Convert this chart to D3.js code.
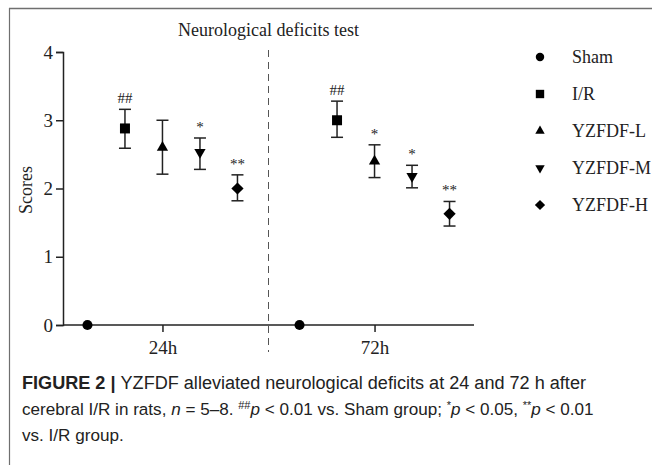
<!DOCTYPE html>
<html>
<head>
<meta charset="utf-8">
<script src="https://cdn.jsdelivr.net/npm/d3@7"></script>
<style>
  body { margin: 0; background: #fff; }
  svg { display: block; }
  .serif { font-family: "Liberation Serif", "Times New Roman", serif; }
  .cap { font-family: "Liberation Sans Narrow", "Liberation Sans", Arial, sans-serif; }
</style>
</head>
<body>
<div id="chart"></div>
<script>
// time points and groups
var times = ["24h", "72h"];
var groups = ["Sham", "I/R", "YZFDF-L", "YZFDF-M", "YZFDF-H"];
// mean, lower, upper error per group
var mean24 = [0, 2.88, 2.60, 2.53, 2.00];
var low24  = [0, 2.59, 2.21, 2.28, 1.82];
var high24 = [0, 3.16, 3.00, 2.74, 2.20];
var mean72 = [0, 3.00, 2.40, 2.18, 1.63];
var low72  = [0, 2.75, 2.16, 2.01, 1.45];
var high72 = [0, 3.28, 2.64, 2.34, 1.81];
var sig24 = ["", "##", "", "*", "**"];
var sig72 = ["", "##", "*", "*", "**"];
var yTicks = [0, 1, 2, 3, 4];

var W = 652, H = 465;
var svg = d3.select("#chart").append("svg").attr("width", W).attr("height", H);

// frame lines
svg.append("line").attr("x1", 9).attr("x2", W).attr("y1", 8.5).attr("y2", 8.5)
    .attr("stroke", "#6f6f6f").attr("stroke-width", 1.5);
svg.append("line").attr("x1", 9.5).attr("x2", 9.5).attr("y1", 8).attr("y2", H)
    .attr("stroke", "#6f6f6f").attr("stroke-width", 1.2);

var x = d3.scalePoint().domain(times).range([63, 474]).padding(0.469);
var xg = d3.scalePoint().domain(groups).range([-75, 75]);
var y = d3.scaleLinear().domain([0, 4]).range([325, 52]);

var data = [];
groups.forEach(function(g, i) {
    data.push({time: "24h", group: g, i: i, m: mean24[i], lo: low24[i], hi: high24[i], sig: sig24[i]});
    data.push({time: "72h", group: g, i: i, m: mean72[i], lo: low72[i], hi: high72[i], sig: sig72[i]});
});

// marker shapes: circle, square, triangle up, triangle down, diamond (rotated square)
var symbols = [d3.symbolCircle, d3.symbolSquare, d3.symbolTriangle, d3.symbolTriangle, d3.symbolSquare];
var sizes = [80, 100, 55, 55, 75];
var rot = [0, 0, 0, 180, 45];

// divider
var mid = (x("24h") + x("72h")) / 2;
svg.append("line").attr("x1", mid).attr("x2", mid).attr("y1", 50).attr("y2", 352)
    .attr("stroke", "#555").attr("stroke-width", 1).attr("stroke-dasharray", "7,5");

// axes
var yAxis = svg.append("g").attr("transform", "translate(63,0)")
    .call(d3.axisLeft(y).tickValues(yTicks).tickFormat(d3.format("d")).tickSize(7).tickPadding(3));
var xAxis = svg.append("g").attr("transform", "translate(0,325)")
    .call(d3.axisBottom(x).tickSize(7).tickPadding(6));
xAxis.select(".domain").attr("d", "M63,0H474");
[yAxis, xAxis].forEach(function(a) {
    a.selectAll("path,line").attr("stroke", "#222").attr("stroke-width", 1.5);
    a.selectAll("text").attr("class", "serif").attr("font-size", 19).attr("fill", "#222");
});
xAxis.selectAll("text").attr("dy", "0.85em");

svg.append("text").attr("class", "serif").attr("font-size", 18).attr("fill", "#222")
    .attr("text-anchor", "middle")
    .attr("transform", "translate(32,190) rotate(-90)")
    .text("Scores");

svg.append("text").attr("class", "serif").attr("font-size", 18).attr("fill", "#222")
    .attr("text-anchor", "middle").attr("x", mid).attr("y", 36)
    .text("Neurological deficits test");

// error bars
var pts = svg.append("g").selectAll("g").data(data).enter().append("g")
    .attr("transform", function(d) { return "translate(" + (x(d.time) + xg(d.group)) + ",0)"; });
var eb = pts.filter(function(d) { return d.hi > d.lo; });
eb.append("line").attr("y1", function(d) { return y(d.lo); }).attr("y2", function(d) { return y(d.hi); })
    .attr("stroke", "#222").attr("stroke-width", 1.5);
eb.append("line").attr("x1", -6).attr("x2", 6).attr("y1", function(d) { return y(d.lo); }).attr("y2", function(d) { return y(d.lo); })
    .attr("stroke", "#222").attr("stroke-width", 1.5);
eb.append("line").attr("x1", -6).attr("x2", 6).attr("y1", function(d) { return y(d.hi); }).attr("y2", function(d) { return y(d.hi); })
    .attr("stroke", "#222").attr("stroke-width", 1.5);
pts.append("path")
    .attr("d", function(d) { return d3.symbol().type(symbols[d.i]).size(sizes[d.i])(); })
    .attr("transform", function(d) { return "translate(0," + y(d.m) + ") rotate(" + rot[d.i] + ")"; })
    .attr("fill", "#000");
pts.append("text").attr("class", "serif").attr("font-size", 15).attr("fill", "#222")
    .attr("text-anchor", "middle")
    .attr("y", function(d) { return y(d.hi) - 6; })
    .text(function(d) { return d.sig; });

// legend
var leg = svg.append("g").selectAll("g").data(groups).enter().append("g")
    .attr("transform", function(d, i) { return "translate(540," + (57 + i * 37) + ")"; });
leg.append("path")
    .attr("d", function(d, i) { return d3.symbol().type(symbols[i]).size(sizes[i] * 0.7)(); })
    .attr("transform", function(d, i) { return "rotate(" + rot[i] + ")"; })
    .attr("fill", "#000");
leg.append("text").attr("class", "serif").attr("font-size", 18).attr("fill", "#222")
    .attr("x", 32).attr("dy", "0.35em").text(function(d) { return d; });

// caption
var cap = svg.append("g").attr("class", "cap").attr("font-size", 18).attr("fill", "#222");
var l1 = cap.append("text").attr("x", 22).attr("y", 389).attr("textLength", 564).attr("lengthAdjust", "spacingAndGlyphs");
l1.append("tspan").attr("font-weight", "bold").text("FIGURE 2 | ");
l1.append("tspan").text("YZFDF alleviated neurological deficits at 24 and 72 h after");
var l2 = cap.append("text").attr("x", 22).attr("y", 415).attr("font-size", 17.1);
l2.append("tspan").text("cerebral I/R in rats, ");
l2.append("tspan").attr("font-style", "italic").text("n");
l2.append("tspan").text(" = 5\u20138. ");
l2.append("tspan").attr("font-size", 11).attr("baseline-shift", "super").text("##");
l2.append("tspan").attr("font-style", "italic").text("p");
l2.append("tspan").text(" < 0.01 vs. Sham group; ");
l2.append("tspan").attr("font-size", 11).attr("baseline-shift", "super").text("*");
l2.append("tspan").attr("font-style", "italic").text("p");
l2.append("tspan").text(" < 0.05, ");
l2.append("tspan").attr("font-size", 11).attr("baseline-shift", "super").text("**");
l2.append("tspan").attr("font-style", "italic").text("p");
l2.append("tspan").text(" < 0.01");
cap.append("text").attr("x", 22).attr("y", 441).attr("font-size", 17.1).text("vs. I/R group.");
</script>
</body>
</html>
